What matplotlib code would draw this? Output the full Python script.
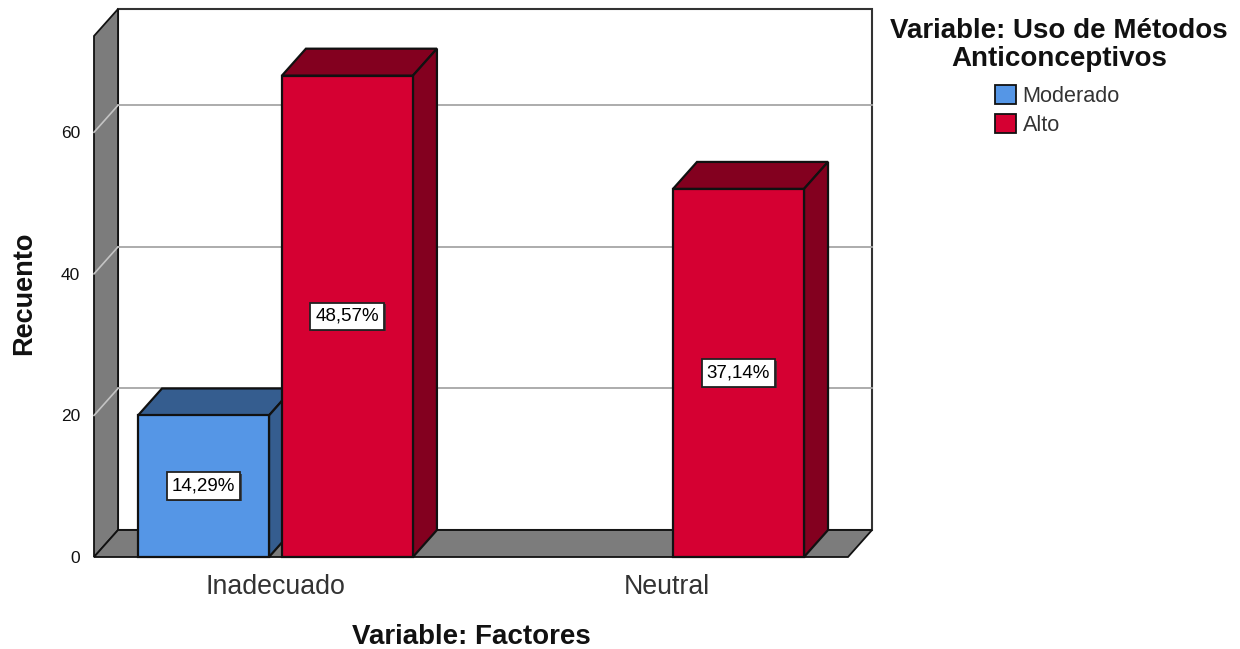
import matplotlib
matplotlib.use("Agg")
import matplotlib.pyplot as plt
import matplotlib.patheffects as pe
from matplotlib.patches import Patch

plt.rcParams['font.family'] = ['Liberation Sans', 'DejaVu Sans']

categories = ['Inadecuado', 'Neutral']
moderado = [20, 0]
alto = [68, 52]
moderado_labels = ['14,29%', '']
alto_labels = ['48,57%', '37,14%']
y_ticks = [0, 20, 40, 60]

BLUE = '#5596e6'
BLUE_DARK = '#355d8f'
RED = '#d50032'
RED_DARK = '#83001f'
WALL = '#7c7c7c'
EDGE = '#111111'

# depth of the fake 3D box, in data units
DX = 0.0614
DY = 3.81
YMAX = 73.6
XMIN, XMAX = -0.464, 1.464
BAR_W = 0.335
OFFSET = 0.184


def bar3d(ax, x, h, front, dark, label):
    if h == 0:
        return
    left = x - BAR_W / 2
    right = x + BAR_W / 2
    ax.bar(x, h, BAR_W, color=front, edgecolor=EDGE, linewidth=1.6, zorder=4, clip_on=False)
    ax.fill([left, right, right + DX, left + DX], [h, h, h + DY, h + DY],
            facecolor=dark, edgecolor=EDGE, linewidth=1.6, zorder=3, clip_on=False)
    ax.fill([right, right + DX, right + DX, right], [0, DY, h + DY, h],
            facecolor=dark, edgecolor=EDGE, linewidth=1.6, zorder=3, clip_on=False)
    t = ax.text(x, h / 2, label, ha='center', va='center', fontsize=13.5, color='black', zorder=6,
                bbox=dict(boxstyle='square,pad=0.28', facecolor='white', edgecolor='#222222', linewidth=1.3))
    t.get_bbox_patch().set_path_effects([pe.withSimplePatchShadow(offset=(1, -1), shadow_rgbFace='#333333', alpha=0.8)])


fig = plt.figure(figsize=(12.4, 6.49), dpi=100)
ax = fig.add_axes([94 / 1240, 92 / 649, 754 / 1240, 521 / 649])
ax.set_xlim(XMIN, XMAX)
ax.set_ylim(0, YMAX)

# back wall, left wall and floor
ax.fill([XMIN + DX, XMAX + DX, XMAX + DX, XMIN + DX], [DY, DY, YMAX + DY, YMAX + DY],
        facecolor='white', edgecolor='#333333', linewidth=1.5, zorder=0, clip_on=False)
ax.fill([XMIN, XMIN + DX, XMIN + DX, XMIN], [0, DY, YMAX + DY, YMAX],
        facecolor=WALL, edgecolor=EDGE, linewidth=1.3, zorder=1, clip_on=False)
ax.fill([XMIN, XMAX, XMAX + DX, XMIN + DX], [0, 0, DY, DY],
        facecolor=WALL, edgecolor=EDGE, linewidth=1.3, zorder=1, clip_on=False)

# gridlines run along the back wall and slant down the left wall
for t in y_ticks[1:]:
    ax.plot([XMIN + DX, XMAX + DX], [t + DY, t + DY], color='#a6a6a6', lw=1.3, zorder=2, clip_on=False)
    ax.plot([XMIN, XMIN + DX], [t, t + DY], color='#c4c4c4', lw=1.2, zorder=2, clip_on=False)

for i in range(len(categories)):
    bar3d(ax, i - OFFSET, moderado[i], BLUE, BLUE_DARK, moderado_labels[i])
    bar3d(ax, i + OFFSET, alto[i], RED, RED_DARK, alto_labels[i])

for s in ax.spines.values():
    s.set_visible(False)
ax.patch.set_visible(False)
ax.set_yticks(y_ticks)
ax.set_yticklabels([str(t) for t in y_ticks], fontsize=12.5, color='#111111')
ax.set_xticks(range(len(categories)))
ax.set_xticklabels(categories, fontsize=19.3, color='#333333')
ax.tick_params(axis='y', length=0, pad=10)
ax.tick_params(axis='x', length=0, pad=12)

fig.text(24 / 1240, 1 - 293 / 649, 'Recuento', rotation=90, ha='center', va='center',
         fontsize=19.5, fontweight='bold', color='#111111')
fig.text(471 / 1240, 1 - 637 / 649, 'Variable: Factores', ha='center', va='center',
         fontsize=20, fontweight='bold', color='#111111')
fig.text(1059 / 1240, 1 - 45 / 649, 'Variable: Uso de Métodos\nAnticonceptivos', ha='center', va='center',
         fontsize=20, fontweight='bold', color='#111111', linespacing=1.08)

handles = [Patch(facecolor=BLUE, edgecolor=EDGE, linewidth=1.3, label='Moderado'),
           Patch(facecolor=RED, edgecolor=EDGE, linewidth=1.3, label='Alto')]
fig.legend(handles=handles, loc='upper left', bbox_to_anchor=(995 / 1240, 1 - 85 / 649),
           frameon=False, fontsize=15.6, labelcolor='#333333', handlelength=0.97, handleheight=1.0,
           handletextpad=0.3, labelspacing=0.31, borderpad=0, borderaxespad=0)

fig.savefig('out.png', dpi=100)
